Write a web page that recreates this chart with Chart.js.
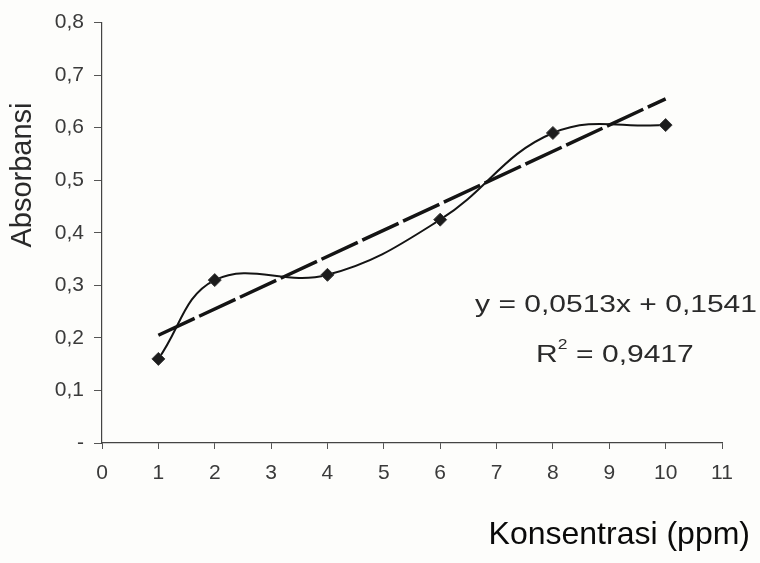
<!DOCTYPE html>
<html>
<head>
<meta charset="utf-8">
<script src="https://cdn.jsdelivr.net/npm/chart.js@4.4.1/dist/chart.umd.min.js"></script>
<style>
  html, body { margin: 0; padding: 0; background: #fdfdfb; }
  #wrap { width: 760px; height: 563px; }
</style>
</head>
<body>
<div id="wrap"><canvas id="chart_absorbansi"></canvas></div>
<script>
// data
var konsentrasi = [1, 2, 4, 6, 8, 10];
var absorbansi = [0.16, 0.31, 0.32, 0.425, 0.59, 0.605];
var trendX = [1, 10];
var trendY = [0.205, 0.655];
var xTickLabels = ['0', '1', '2', '3', '4', '5', '6', '7', '8', '9', '10', '11'];
var yTickLabels = ['-', '0,1', '0,2', '0,3', '0,4', '0,5', '0,6', '0,7', '0,8'];
var equationText = 'y = 0,0513x + 0,1541';
var r2Text = '0,9417';

var ink = '#141414';
var tickFont = { family: '"Liberation Sans", Arial, sans-serif', size: 21 };

function toPoints(xs, ys) {
    return xs.map(function (x, i) { return { x: x, y: ys[i] }; });
}

var chart_absorbansi = new Chart(document.getElementById('chart_absorbansi'), {
    type: 'scatter',
    data: {
        datasets: [
            {
                label: 'Absorbansi',
                data: toPoints(konsentrasi, absorbansi),
                showLine: true,
                tension: 0.4,
                borderColor: ink,
                borderWidth: 2,
                pointStyle: 'rectRot',
                pointRadius: 6.5,
                pointBackgroundColor: '#1c1c1c',
                pointBorderColor: '#3a3a3a',
                pointBorderWidth: 1
            },
            {
                label: 'Linear',
                data: toPoints(trendX, trendY),
                showLine: true,
                borderColor: ink,
                borderWidth: 3.5,
                borderDash: [40, 5],
                pointRadius: 0
            }
        ]
    },
    options: {
        animation: false,
        responsive: true,
        maintainAspectRatio: false,
        layout: {
            padding: { left: 10, top: 22, right: 38, bottom: 8 }
        },
        plugins: {
            legend: { display: false },
            tooltip: { enabled: false }
        },
        scales: {
            x: {
                type: 'linear',
                min: 0,
                max: 11,
                afterFit: function (scale) { scale.height = 112; },
                grid: {
                    drawOnChartArea: false,
                    drawTicks: true,
                    tickLength: 6,
                    color: '#555'
                },
                border: { color: '#444', width: 1.2 },
                ticks: {
                    stepSize: 1,
                    padding: 12,
                    color: '#3a3a3a',
                    font: tickFont,
                    callback: function (value, index) {
                        return xTickLabels[index];
                    }
                }
            },
            y: {
                type: 'linear',
                min: 0,
                max: 0.8,
                afterFit: function (scale) { scale.width = 92; },
                grid: {
                    drawOnChartArea: false,
                    drawTicks: true,
                    tickLength: 8,
                    color: '#555'
                },
                border: { color: '#444', width: 1.2 },
                ticks: {
                    stepSize: 0.1,
                    padding: 10,
                    color: '#3a3a3a',
                    font: tickFont,
                    callback: function (value, index) {
                        return yTickLabels[index];
                    }
                }
            }
        }
    },
    plugins: [{
        id: 'customText',
        afterDraw: function (chart) {
            var ctx = chart.ctx;
            var xs = chart.scales.x;
            var ys = chart.scales.y;
            ctx.save();
            ctx.fillStyle = '#2a2a2a';
            ctx.textBaseline = 'middle';
            ctx.textAlign = 'center';

            // y axis title
            ctx.save();
            ctx.translate(23, ys.getPixelForValue(0.51));
            ctx.rotate(-Math.PI / 2);
            ctx.font = '29px "Liberation Sans", Arial, sans-serif';
            ctx.fillText('Absorbansi', 0, 0);
            ctx.restore();

            // x axis title
            ctx.fillStyle = '#0a0a0a';
            ctx.font = '32px "Liberation Sans", Arial, sans-serif';
            ctx.textAlign = 'right';
            ctx.fillText('Konsentrasi (ppm)', 750, 535);

            // trendline equation, stretched like the scan
            ctx.fillStyle = '#2a2a2a';
            ctx.textAlign = 'center';
            var cx = xs.getPixelForValue(9.12);
            ctx.save();
            ctx.translate(cx, ys.getPixelForValue(0.262));
            ctx.scale(1.25, 1);
            ctx.font = '24px "Liberation Sans", Arial, sans-serif';
            ctx.fillText(equationText, 0, 0);
            ctx.restore();

            ctx.save();
            ctx.translate(xs.getPixelForValue(9.1), ys.getPixelForValue(0.167));
            ctx.scale(1.25, 1);
            ctx.font = '24px "Liberation Sans", Arial, sans-serif';
            var rest = ' = ' + r2Text;
            var wR = ctx.measureText('R').width;
            var w2 = 8;
            var wRest = ctx.measureText(rest).width;
            var start = -(wR + w2 + wRest) / 2;
            ctx.textAlign = 'left';
            ctx.fillText('R', start, 0);
            ctx.font = '14px "Liberation Sans", Arial, sans-serif';
            ctx.fillText('2', start + wR, -10);
            ctx.font = '24px "Liberation Sans", Arial, sans-serif';
            ctx.fillText(rest, start + wR + w2, 0);
            ctx.restore();

            ctx.restore();
        },
        beforeDraw: function (chart) {
            var ctx = chart.canvas.getContext('2d');
            ctx.save();
            ctx.globalCompositeOperation = 'destination-over';
            ctx.fillStyle = '#fdfdfb';
            ctx.fillRect(0, 0, chart.canvas.width, chart.canvas.height);
            ctx.restore();
        }
    }]
});
</script>
</body>
</html>
